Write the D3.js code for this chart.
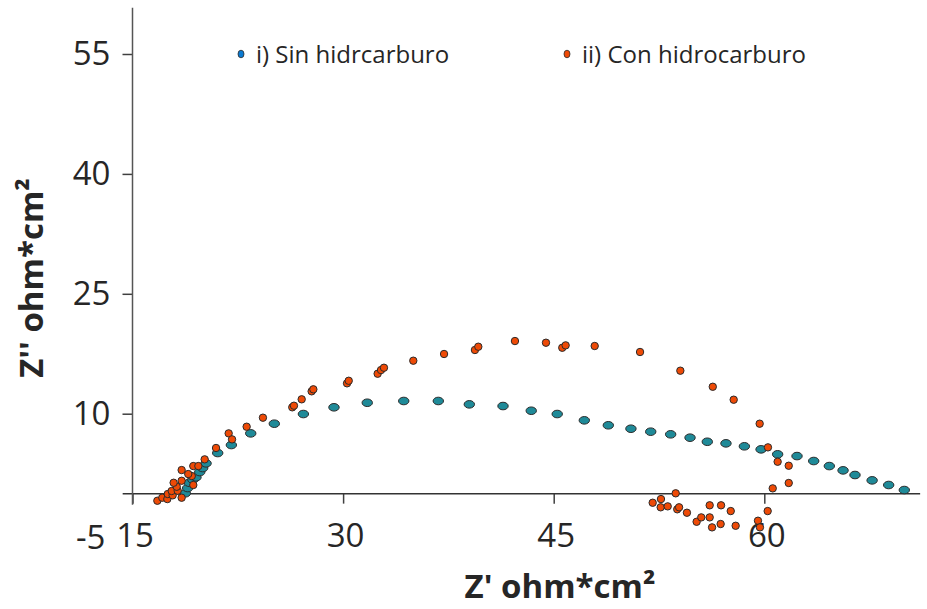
<!DOCTYPE html>
<html>
<head>
<meta charset="utf-8">
<style>
body { margin: 0; background: #fff; }
text { font-family: "Open Sans", sans-serif; fill: #262626; }
.tick text { font-size: 33px; }
.axis-title { font-size: 33px; font-weight: bold; }
.legend text { font-size: 24px; }
</style>
<title></title></head>
<body>
<script src="https://cdn.jsdelivr.net/npm/d3@7"></script>
<script>

// i) Sin hidrcarburo
var sinX = [18.76, 18.93, 19.05, 19.3, 19.52, 19.79, 20.0, 20.24, 21.07, 22.04, 23.42, 25.10, 27.17, 29.35, 31.72,
            34.32, 36.78, 38.99, 41.39, 43.40, 45.25, 47.18, 48.89, 50.50, 51.91, 53.33, 54.71, 55.94,
            57.27, 58.58, 59.77, 60.95, 62.33, 63.52, 64.63, 65.61, 66.46, 67.68, 68.86, 69.97];
var sinY = [0.04, 0.70, 1.36, 1.75, 2.04, 2.70, 3.2, 3.79, 5.08, 6.08, 7.54, 8.75, 9.96, 10.80, 11.37,
            11.59, 11.59, 11.17, 10.96, 10.37, 9.96, 9.17, 8.55, 8.12, 7.75, 7.42, 7.00, 6.49,
            6.29, 5.92, 5.54, 4.92, 4.70, 4.08, 3.45, 2.91, 2.33, 1.66, 1.08, 0.45];

// ii) Con hidrocarburo
var conX = [16.77, 17.12, 17.48, 17.51, 17.86, 17.79, 18.22, 18.50, 18.15, 17.93, 18.50, 19.33, 19.22, 18.97,
            18.50, 19.33, 19.69, 20.14, 20.95, 21.85, 22.09, 23.13, 24.29, 26.38, 26.50, 27.05, 27.76,
            27.88, 30.28, 30.40, 32.46, 32.70, 32.91, 35.00, 37.19, 39.39, 39.63, 42.24, 44.45, 45.61,
            45.85, 47.92, 51.15, 54.02, 56.33, 57.82, 59.67, 60.26, 60.95, 61.74, 61.74, 60.60, 53.69,
            52.64, 52.05, 52.62, 53.12, 53.80, 53.93, 54.49, 55.18, 55.51, 56.11, 56.92, 56.11, 56.28,
            56.89, 57.61, 57.96, 60.24, 59.55, 59.69];
var conY = [-0.89, -0.51, -0.68, -0.05, -0.21, 0.33, 0.36, -0.51, 0.86, 1.36, 1.61, 1.08, 2.20, 2.45,
            2.95, 3.45, 3.45, 4.29, 5.71, 7.54, 6.79, 8.37, 9.50, 10.80, 11.00, 11.80, 12.80,
            13.05, 13.80, 14.12, 15.00, 15.46, 15.75, 16.63, 17.47, 17.97, 18.38, 19.09, 18.88, 18.25,
            18.55, 18.47, 17.72, 15.38, 13.37, 11.75, 8.75, 5.79, 3.99, 3.49, 1.33, 0.66, 0.04,
            -0.68, -1.14, -1.71, -1.59, -1.96, -1.71, -2.39, -3.52, -2.97, -1.46, -1.46, -2.97, -4.22,
            -3.80, -2.18, -4.02, -2.18, -3.39, -4.22];

var xTicks = [15, 30, 45, 60];
var yTicks = [-5, 10, 25, 40, 55];
var seriesNames = ["i) Sin hidrcarburo", "ii) Con hidrocarburo"];

var width = 927,
    height = 609;

var x = d3.scaleLinear().domain([15, 60]).range([132.5, 764.3]);
var y = d3.scaleLinear().domain([10, 55]).range([413.7, 54]);

var svg = d3.select("body").append("svg")
    .attr("width", width)
    .attr("height", height);

// axes
var xAxis = svg.append("g")
    .attr("class", "x axis")
    .attr("transform", "translate(0," + y(0) + ")")
    .call(d3.axisBottom(x).tickValues(xTicks).tickSize(10).tickPadding(20).tickFormat(function(d) { return String(d); }));
xAxis.select(".domain").remove();
xAxis.selectAll(".tick line").attr("stroke", "#404040").attr("stroke-width", 1.5);
xAxis.selectAll(".tick text").attr("dx", 2);

var yAxis = svg.append("g")
    .attr("class", "y axis")
    .attr("transform", "translate(" + x(15) + ",0)")
    .call(d3.axisLeft(y).tickValues(yTicks).tickSize(10).tickPadding(12).tickFormat(function(d) { return String(d); }));
yAxis.select(".domain").remove();
yAxis.selectAll(".tick line").attr("stroke", "#404040").attr("stroke-width", 1.5);
var negTick = yAxis.selectAll(".tick").filter(function(d) { return d < 0; });
negTick.select("line").remove();
negTick.select("text").attr("x", -27).attr("y", 4);

// axis lines
svg.append("line")
    .attr("x1", x(14.3)).attr("x2", x(71.1))
    .attr("y1", y(0)).attr("y2", y(0))
    .attr("stroke", "#333").attr("stroke-width", 1.5);
svg.append("line")
    .attr("x1", x(15)).attr("x2", x(15))
    .attr("y1", y(60.8)).attr("y2", y(-1.4))
    .attr("stroke", "#555").attr("stroke-width", 1.5);

// titles
svg.append("text")
    .attr("class", "axis-title")
    .attr("x", 560)
    .attr("y", 598)
    .attr("text-anchor", "middle")
    .text("Z' ohm*cm²");

svg.append("text")
    .attr("class", "axis-title")
    .attr("transform", "translate(43,278) rotate(-90)")
    .attr("text-anchor", "middle")
    .text("Z'' ohm*cm²");

// points
var sinData = sinX.map(function(d, i) { return {x: d, y: sinY[i]}; });
var conData = conX.map(function(d, i) { return {x: d, y: conY[i]}; });

svg.append("g").selectAll("ellipse")
    .data(sinData)
    .enter().append("ellipse")
    .attr("cx", function(d) { return x(d.x); })
    .attr("cy", function(d) { return y(d.y); })
    .attr("rx", 5.2)
    .attr("ry", 3.8)
    .style("fill", "#1f8a98")
    .style("stroke", "#2b2b2b")
    .style("stroke-width", 1);

svg.append("g").selectAll("ellipse")
    .data(conData)
    .enter().append("ellipse")
    .attr("cx", function(d) { return x(d.x); })
    .attr("cy", function(d) { return y(d.y); })
    .attr("rx", 3.7)
    .attr("ry", 3.7)
    .style("fill", "#ee4a06")
    .style("stroke", "#2b2b2b")
    .style("stroke-width", 1);

// legend
var legend = svg.append("g").attr("class", "legend");
var legendX = [241, 567],
    legendColors = ["#0b7ad1", "#ee4a06"];

seriesNames.forEach(function(name, i) {
  legend.append("ellipse")
      .attr("cx", legendX[i])
      .attr("cy", 54)
      .attr("rx", 3)
      .attr("ry", 3.8)
      .style("fill", legendColors[i])
      .style("stroke", "#2b2b2b")
      .style("stroke-width", 0.8);
  legend.append("text")
      .attr("x", legendX[i] + 15)
      .attr("y", 63)
      .text(name);
});

</script>
</body>
</html>
